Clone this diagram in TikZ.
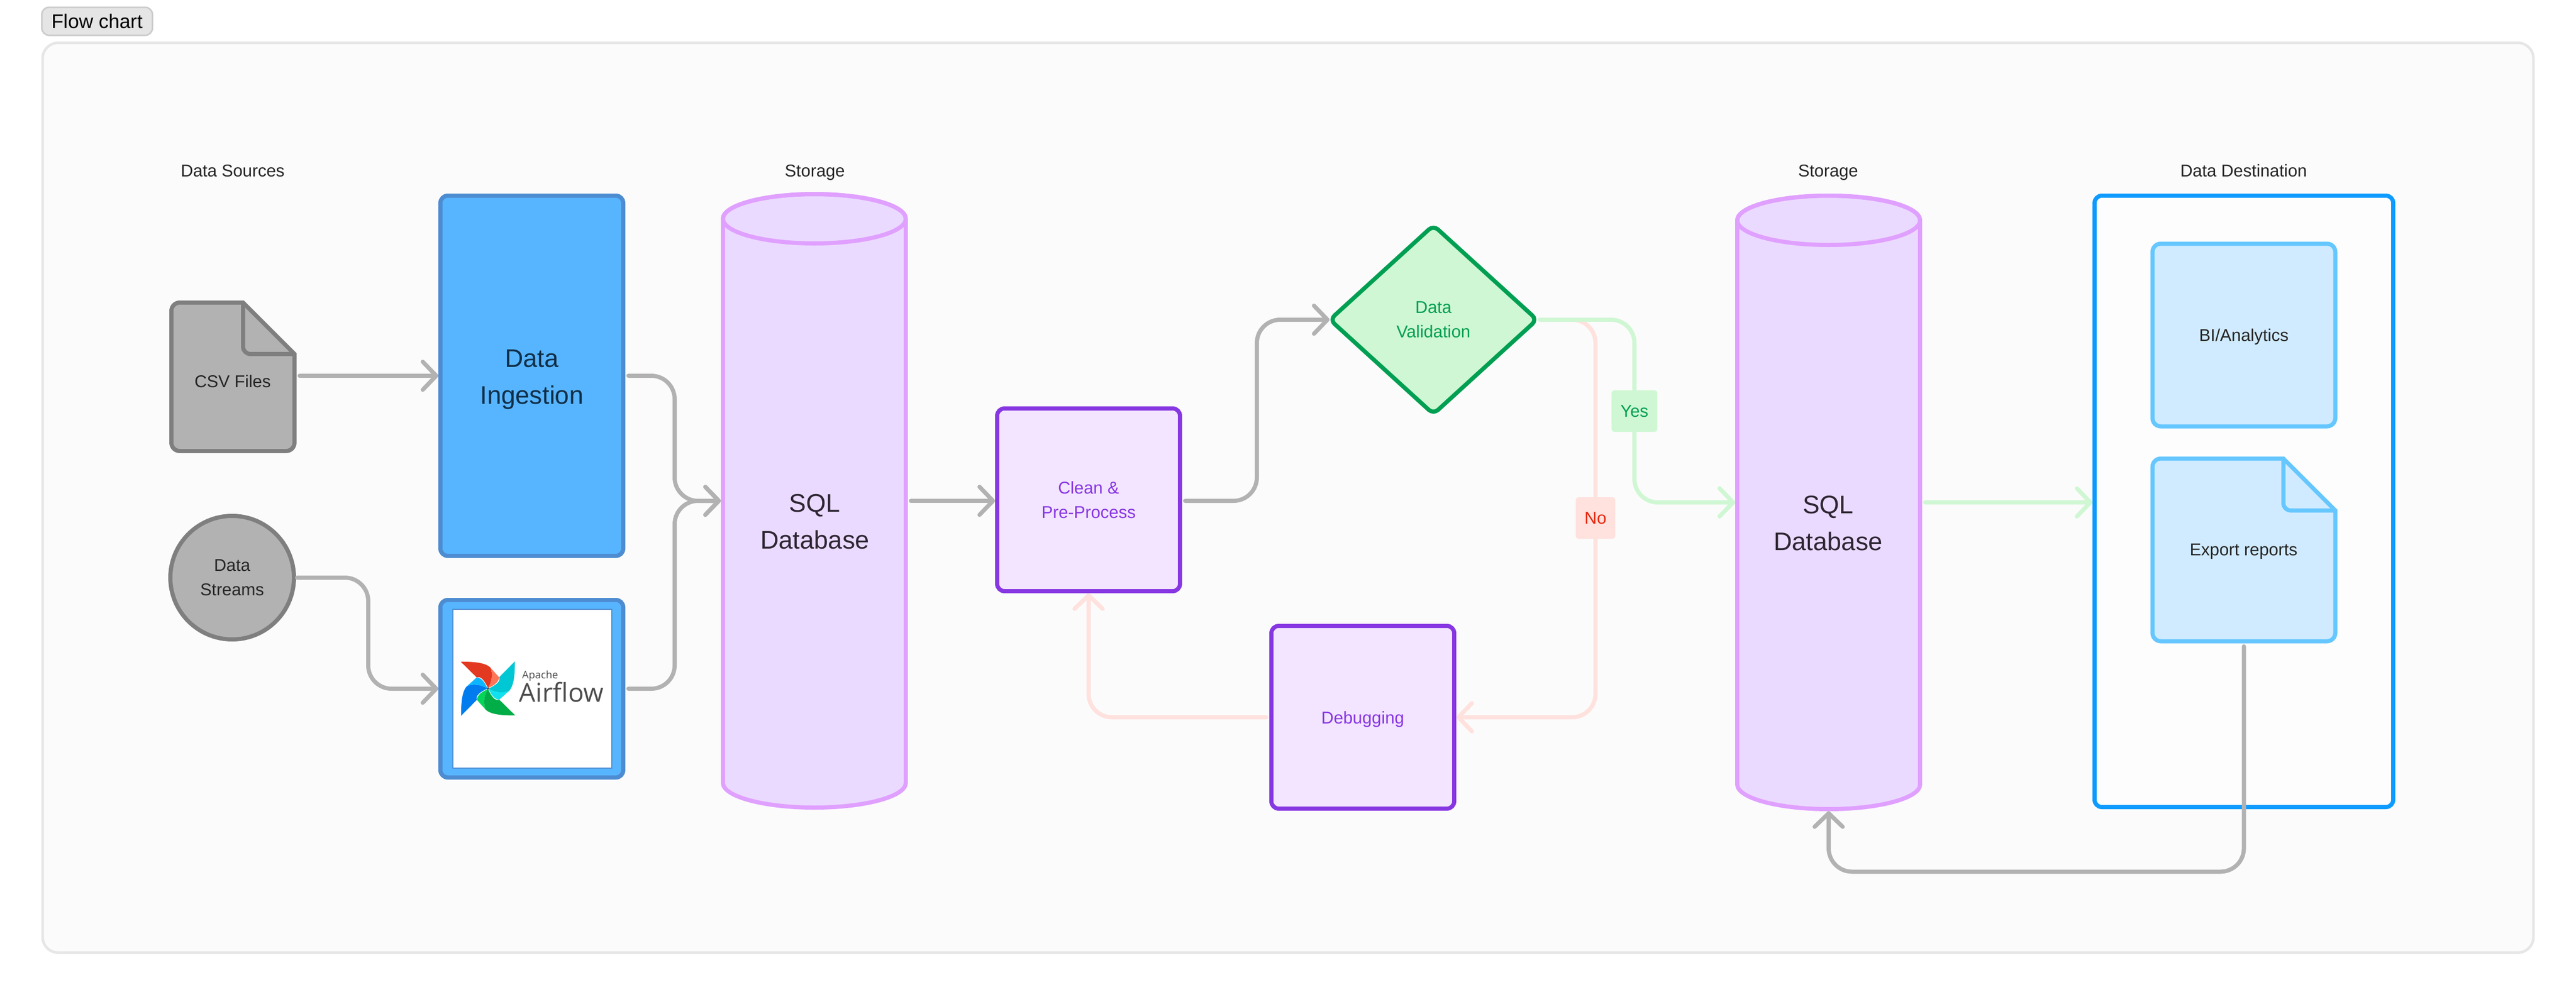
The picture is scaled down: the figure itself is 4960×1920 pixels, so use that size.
\documentclass[tikz,border=0pt]{standalone}
\usepackage{fontspec}
\setmainfont{Liberation Sans}
\newfontfamily\logofont{Open Sans}
\usetikzlibrary{arrows.meta,positioning,calc,shapes.geometric}

\definecolor{panelfill}{HTML}{FBFBFB}
\definecolor{panelline}{HTML}{E6E6E6}
\definecolor{tagfill}{HTML}{E5E5E5}
\definecolor{tagline}{HTML}{CCCCCC}
\definecolor{graydark}{HTML}{7F7F7F}
\definecolor{grayfill}{HTML}{B2B2B2}
\definecolor{bluefill}{HTML}{57B5FF}
\definecolor{blueline}{HTML}{4D8CD1}
\definecolor{bluetext}{HTML}{112F49}
\definecolor{lilacfill}{HTML}{EBDAFF}
\definecolor{lilacline}{HTML}{E0A0FF}
\definecolor{lilactext}{HTML}{2D2633}
\definecolor{purplefill}{HTML}{F3E5FF}
\definecolor{purpleline}{HTML}{8737E2}
\definecolor{greenfill}{HTML}{CFF7D3}
\definecolor{greenline}{HTML}{009F52}
\definecolor{pinkline}{HTML}{FFE1DE}
\definecolor{redtext}{HTML}{E6280F}
\definecolor{skyfill}{HTML}{D0EBFF}
\definecolor{skyline}{HTML}{66C7FF}
\definecolor{destline}{HTML}{0E9BFF}
\definecolor{logored}{HTML}{E43921}
\definecolor{logoorange}{HTML}{FF7557}
\definecolor{logoteal}{HTML}{00C7D4}
\definecolor{logocyan}{HTML}{11E1EE}
\definecolor{logogreen}{HTML}{00AD46}
\definecolor{logolime}{HTML}{04D659}
\definecolor{logoblue}{HTML}{017CEE}
\definecolor{logosky}{HTML}{0CB6FF}

\tikzset{
  small/.style={font=\fontsize{33}{47}\selectfont,text=black!85,align=center,inner sep=0pt},
  large/.style={font=\fontsize{49}{71}\selectfont,align=center,inner sep=0pt},
  squarebox/.style={rectangle,rounded corners=14pt,line width=8pt,minimum width=352pt,minimum height=352pt,inner sep=0pt,align=center},
  docnode/.style={rectangle,inner sep=0pt,outer sep=0pt},
  flowline/.style={line width=8pt,rounded corners=45pt,line cap=round,shorten <=6pt,
    -{Straight Barb[round,length=26pt,width=54pt]}},
  grayflow/.style={flowline,draw=grayfill},
  greenflow/.style={flowline,draw=greenfill},
  pinkflow/.style={flowline,draw=pinkline},
  answer/.style={rectangle,rounded corners=5pt,minimum height=80pt,inner sep=0pt,font=\fontsize{33}{40}\selectfont}
}

% folded sheet: node name, fold size, fill, line
\newcommand{\sheet}[4]{
  \draw [draw=#4,fill=#3,line width=8pt,rounded corners=16pt,line join=miter]
    ($(#1.north east)+(-#2,0)$) [sharp corners] -- ($(#1.north east)+(0,#2)$)
    [rounded corners=16pt] -- (#1.south east) -- (#1.south west) -- (#1.north west)
    [sharp corners] -- cycle;
  \draw [draw=#4,line width=8pt,rounded corners=14pt]
    ($(#1.north east)+(-#2,0)$) |- ($(#1.north east)+(0,#2)$);
}
% drum around a node
\newcommand{\drum}[1]{
  \draw [draw=lilacline,fill=lilacfill,line width=8pt]
    ($(#1.north west)+(4,51.5)$) -- ($(#1.south west)+(4,-51.5)$)
    arc [start angle=180,end angle=360,x radius=176pt,y radius=47.5pt]
    -- ($(#1.north east)+(-4,51.5)$)
    arc [start angle=0,end angle=180,x radius=176pt,y radius=47.5pt] -- cycle;
  \draw [draw=lilacline,line width=8pt] ($(#1.north)+(0,51.5)$) ellipse [x radius=176pt,y radius=47.5pt];
}

\begin{document}
\begin{tikzpicture}[x=1pt,y=-1pt]
  \useasboundingbox (0,0) rectangle (4960,1920);

  \node (panel) [rectangle,rounded corners=30pt,draw=panelline,line width=5pt,fill=panelfill,
    minimum width=4796pt,minimum height=1753pt,inner sep=0pt] at (2480,959) {};
  \node (tag) [rectangle,rounded corners=14pt,draw=tagline,line width=3pt,fill=tagfill,minimum width=213pt,
    minimum height=54pt,inner sep=0pt,font=\fontsize{38}{46}\selectfont] at (187,41) {Flow chart};

  % column titles
  \node (sourcestitle) [small] at (448,329) {Data Sources};
  \node (storeatitle) [small] at (1569,332) {Storage};
  \node (storebtitle) [small] at (3520,332) {Storage};
  \node (desttitle) [small] at (4320,329) {Data Destination};

  % sources
  \node (csv) [docnode,minimum width=237pt,minimum height=286pt] at (448.5,726) {};
  \sheet{csv}{99}{grayfill}{graydark}
  \node (csvtext) [small] at (448,735) {CSV Files};
  \node (streams) [circle,draw=graydark,line width=8pt,fill=grayfill,minimum size=238pt,inner sep=0pt,
    font=\fontsize{33}{47}\selectfont,text=black!85,align=center] at (447,1113) {Data\\Streams};

  % ingestion
  \node (ingest) [rectangle,rounded corners=14pt,draw=blueline,line width=8pt,fill=bluefill,
    minimum width=352pt,minimum height=694pt] at (1024,724) {};
  \node (ingesttext) [large,text=bluetext] at (1024,731) {Data\\Ingestion};
  \node (airflow) [rectangle,rounded corners=14pt,draw=blueline,line width=8pt,fill=bluefill,
    minimum width=352pt,minimum height=342pt] at (1024,1327) {};
  \node (airflowimg) [rectangle,draw=blueline,line width=2pt,fill=white,
    minimum width=306pt,minimum height=306pt,inner sep=0pt] at (1024.5,1326.5) {};
  \coordinate (hub) at (939.6,1326.7);
  \foreach \ang/\main/\side in {0/logored/logoorange,-90/logoteal/logocyan,-180/logogreen/logolime,-270/logoblue/logosky} {
    \begin{scope}[shift={(hub)},rotate=\ang]
      \fill [\main] (-52.4,-51.7) .. controls (-28,-52) and (-4,-50) .. (5,-40)
        .. controls (9,-30) and (9,-15) .. (0,-1) .. controls (-4,-10) and (-11,-22) .. (-18,-22)
        -- (-22,-21.7) -- cycle;
      \fill [\side] (5,-40) -- (21.4,-21.7) .. controls (21,-12) and (10,-5) .. (0,-1)
        .. controls (9,-15) and (9,-30) .. (5,-40) -- cycle;
    \end{scope}
  }
  \fill [black!70] (hub) circle (2);
  \node (apache) [inner sep=0pt,text=black!70,font=\logofont\fontsize{20}{24}\selectfont] at (1040,1302) {Apache};
  \node (airflowtext) [inner sep=0pt,text=black!70,font=\logofont\fontsize{50}{60}\selectfont] at (1081,1334) {Airflow};

  % storage and processing
  \node (sqla) [docnode,minimum width=360pt,minimum height=1190pt] at (1568,965) {};
  \drum{sqla}
  \node (sqlatext) [large,text=lilactext] at (1569,1005) {SQL\\Database};
  \node (clean) [squarebox,draw=purpleline,fill=purplefill,font=\fontsize{33}{47}\selectfont,text=purpleline] at (2096,963) {Clean \&\\Pre-Process};
  \node (debug) [squarebox,draw=purpleline,fill=purplefill,font=\fontsize{33}{47}\selectfont,text=purpleline] at (2624,1382) {\rule{0pt}{31pt}Debugging};
  \node (valid) [diamond,aspect=1.09,rounded corners=12pt,draw=greenline,line width=8pt,fill=greenfill,
    minimum width=402pt,minimum height=367pt,inner sep=0pt,
    font=\fontsize{33}{47}\selectfont,text=greenline,align=center] at (2760,616) {Data\\Validation};
  \node (sqlb) [docnode,minimum width=360pt,minimum height=1190pt] at (3521,968) {};
  \drum{sqlb}
  \node (sqlbtext) [large,text=lilactext] at (3520,1008) {SQL\\Database};

  % destination
  \node (dest) [rectangle,rounded corners=14pt,draw=destline,line width=8pt,fill=panelfill!50!white,
    minimum width=575pt,minimum height=1178pt] at (4320.5,966) {};
  \node (bi) [squarebox,rounded corners=16pt,draw=skyline,fill=skyfill,
    font=\fontsize{33}{47}\selectfont,text=black!85] at (4320.5,645.5) {\rule{0pt}{31pt}BI/Analytics};
  \node (export) [docnode,minimum width=352pt,minimum height=352pt] at (4320.5,1059.5) {};
  \sheet{export}{100}{skyfill}{skyline}
  \node (exporttext) [small] at (4320,1063) {Export reports};

  % connectors
  \coordinate (yesmark) at (3147,792);
  \coordinate (nomark) at (3072,998);
  \draw [grayflow,shorten <=10pt] (csv.east |- ingest.west) -- (ingest.west);
  \draw [grayflow,shorten <=2pt] (streams.east) -- ++(139,0) |- (airflow.west);
  \draw [grayflow] (ingest.east) -- ++(95,0) |- (sqla.west);
  \draw [grayflow] (airflow.east) -- ++(95,0) |- (sqla.west);
  \draw [grayflow] (sqla.east) -- (sqla.east -| clean.west);
  \draw [grayflow,shorten >=-5pt] (clean.east |- sqla.east) -- ++(144,0) |- (valid.west);
  \draw [pinkflow,shorten <=0pt] (valid.east) -| (nomark) |- (debug.east);
  \draw [greenflow,shorten <=0pt] (valid.east) -| (yesmark) |- (sqlb.west);
  \draw [pinkflow] (debug.west) -| (clean.south);
  \draw [greenflow] (sqlb.east) -- (sqlb.east -| dest.west);
  \draw [grayflow,shorten <=10pt] (export.south) -- ++(0,444) -| (sqlb.south);

  \node (yes) [answer,fill=greenfill,minimum width=88pt,text=greenline] at (yesmark) {Yes};
  \node (no) [answer,fill=pinkline,minimum width=76pt,text=redtext] at (nomark) {No};
\end{tikzpicture}
\end{document}
